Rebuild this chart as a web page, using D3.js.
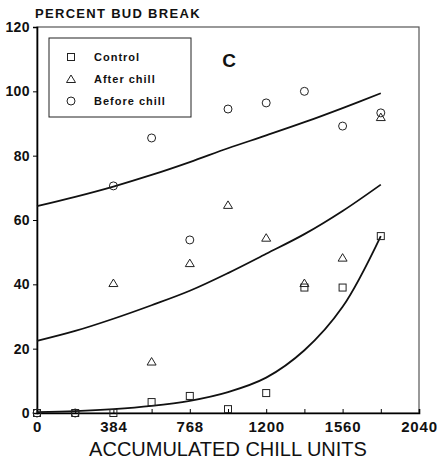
<!DOCTYPE html>
<html>
<head>
<meta charset="utf-8">
<script src="https://cdn.jsdelivr.net/npm/d3@7"></script>
<style>
  body { margin: 0; background: #fff; }
  text { font-family: "Liberation Sans", Arial, sans-serif; fill: #111; }
</style>
</head>
<body>
<div id="chart"></div>
<script>
// accumulated chill units at which buds were sampled
var chillUnits = [0, 192, 384, 576, 768, 984, 1200, 1380, 1560, 1800];

// observed percent bud break
var control     = [0, 0, 0, 3.4, 5.3, 1.2, 6.2, 39, 39, 55];
var afterChill  = [null, null, 40.4, 16, 46.6, 64.7, 54.5, 40.4, 48.3, 92];
var beforeChill = [0, 0, 70.6, 85.5, 53.8, 94.5, 96.4, 100, 89.2, 93.3];

// fitted curves at the same chill units
var controlFit     = [0.3, 0.6, 1.2, 2.2, 3.8, 6.5, 11, 19.5, 33, 55];
var afterChillFit  = [22.4, 25.5, 29.3, 33.5, 38, 43.5, 49.5, 55.6, 62.8, 71];
var beforeChillFit = [64.3, 67.2, 70.4, 74, 78, 82.3, 86.3, 90.4, 94.8, 99.4];

var xTicks = [0, 384, 768, 1200, 1560, 2040];
var xMinor = [192, 576, 984, 1380, 1800];
var yTicks = [0, 20, 40, 60, 80, 100, 120];

var seriesNames = ["Control", "After chill", "Before chill"];

function chart() {
  var w = 437, h = 464;
  var margin = {top: 27, right: 18, bottom: 51, left: 37};
  var iw = w - margin.left - margin.right;
  var ih = h - margin.top - margin.bottom;

  var svg = d3.select("#chart").append("svg")
    .attr("width", w)
    .attr("height", h);

  var g = svg.append("g")
    .attr("transform", "translate(" + margin.left + "," + margin.top + ")");

  // tick labels are evenly spaced on the original, so use a piecewise scale
  var xScale = d3.scaleLinear()
    .domain(xTicks)
    .range(xTicks.map((d, i) => i * iw / (xTicks.length - 1)));

  var yScale = d3.scaleLinear()
    .domain([0, 120])
    .range([ih, 0]);

  // frame (top and right sides are fainter in the original)
  g.append("rect")
    .attr("width", iw)
    .attr("height", ih)
    .attr("fill", "none")
    .attr("stroke", "#555")
    .attr("stroke-width", 1.2);

  // y axis
  var yAxis = d3.axisLeft(yScale)
    .tickValues(yTicks)
    .tickSize(4)
    .tickPadding(3);
  var ya = g.append("g").call(yAxis);
  ya.select(".domain").attr("stroke-width", 1.6);
  ya.selectAll("text")
    .style("font-size", "14px")
    .style("font-weight", "bold")
    .style("letter-spacing", "0.4px")
    .style("font-family", "'Liberation Sans', Arial, sans-serif");

  // x axis, ticks pointing inwards
  var xAxis = d3.axisBottom(xScale)
    .tickValues(xTicks.concat(xMinor))
    .tickSize(-4)
    .tickPadding(8)
    .tickFormat((d) => xTicks.indexOf(d) >= 0 ? d : "");
  var xa = g.append("g")
    .attr("transform", "translate(0," + ih + ")")
    .call(xAxis);
  xa.select(".domain").attr("stroke-width", 1.6);
  xa.selectAll("text")
    .style("font-size", "15px")
    .style("font-weight", "bold")
    .style("letter-spacing", "0.8px")
    .style("font-family", "'Liberation Sans', Arial, sans-serif");

  // fitted curves
  var line = d3.line()
    .x((d) => xScale(d[0]))
    .y((d) => yScale(d[1]))
    .curve(d3.curveCatmullRom);

  [controlFit, afterChillFit, beforeChillFit].forEach(function (fit) {
    g.append("path")
      .datum(chillUnits.map((c, i) => [c, fit[i]]))
      .attr("d", line)
      .attr("fill", "none")
      .attr("stroke", "#111")
      .attr("stroke-width", 1.8);
  });

  // markers
  function drawMarker(sel, type) {
    if (type === 0) {
      sel.append("rect").attr("x", -3.5).attr("y", -3.5).attr("width", 7).attr("height", 7);
    } else if (type === 1) {
      sel.append("path").attr("d", "M0,-4L4.5,3.5L-4.5,3.5Z");
    } else {
      sel.append("circle").attr("r", 4);
    }
    sel.selectAll("*")
      .attr("fill", "none")
      .attr("stroke", "#222")
      .attr("stroke-width", 1);
  }

  [control, afterChill, beforeChill].forEach(function (vals, k) {
    var pts = chillUnits.map((c, i) => [c, vals[i]]).filter((d) => d[1] !== null);
    g.selectAll(".m" + k)
      .data(pts)
      .enter()
      .append("g")
      .attr("class", "m" + k)
      .attr("transform", (d) => "translate(" + xScale(d[0]) + "," + yScale(d[1]) + ")")
      .each(function () { drawMarker(d3.select(this), k); });
  });

  // legend
  var lg = svg.append("g").attr("transform", "translate(49,38)");
  lg.append("rect")
    .attr("width", 142)
    .attr("height", 79)
    .attr("fill", "#fff")
    .attr("stroke", "#222")
    .attr("stroke-width", 1);
  seriesNames.forEach(function (name, k) {
    var row = lg.append("g").attr("transform", "translate(0," + (19 + k * 22) + ")");
    drawMarker(row.append("g").attr("transform", "translate(22,0)"), k);
    row.append("text")
      .attr("x", 45)
      .attr("y", 4)
      .style("font-size", "11px")
      .style("font-weight", "bold")
      .style("letter-spacing", "1px")
      .text(name);
  });

  // panel letter
  svg.append("text")
    .attr("x", 229)
    .attr("y", 67)
    .attr("text-anchor", "middle")
    .style("font-size", "19px")
    .style("font-weight", "bold")
    .text("C");

  // y title
  svg.append("text")
    .attr("x", 35)
    .attr("y", 18)
    .style("font-size", "13px")
    .style("font-weight", "bold")
    .style("letter-spacing", "1.3px")
    .text("PERCENT BUD BREAK");

  // x title
  svg.append("text")
    .attr("x", margin.left + iw / 2)
    .attr("y", 456)
    .attr("text-anchor", "middle")
    .style("font-size", "20px")
    .text("ACCUMULATED CHILL UNITS");
}

window.onload = function () {
  chart();
};
</script>
</body>
</html>
